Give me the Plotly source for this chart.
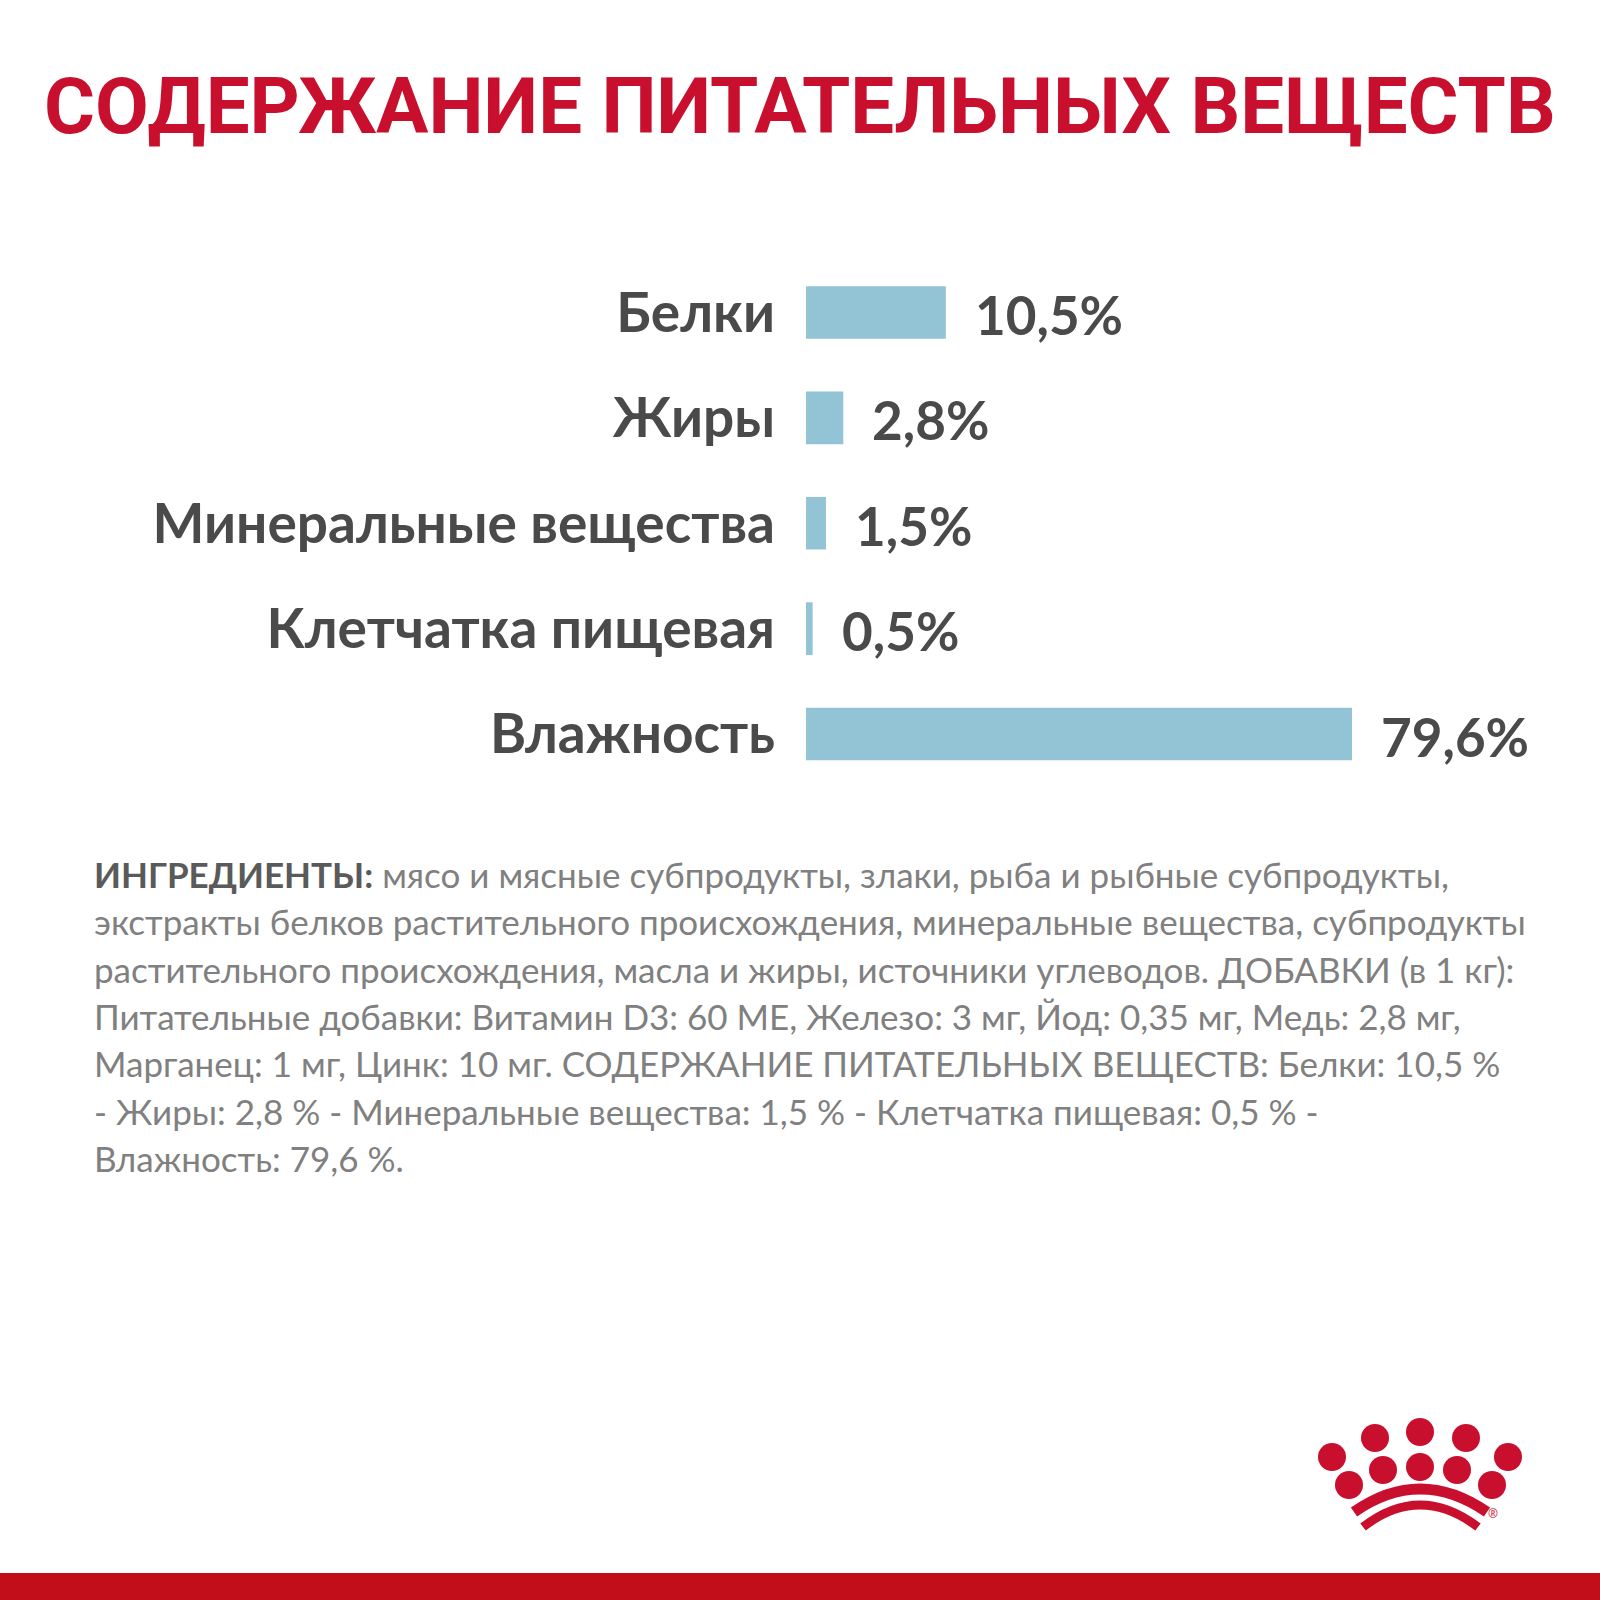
import plotly.graph_objects as go

# ---- data ----
categories = ["Белки", "Жиры", "Минеральные вещества", "Клетчатка пищевая", "Влажность"]
values = [10.5, 2.8, 1.5, 0.5, 79.6]
x_max = 41  # axis cap: the moisture bar is truncated at the axis end

title_text = "СОДЕРЖАНИЕ ПИТАТЕЛЬНЫХ ВЕЩЕСТВ"
ingredients_head = "ИНГРЕДИЕНТЫ:"
ingredients_lines = [
    " мясо и мясные субпродукты, злаки, рыба и рыбные субпродукты,",
    "экстракты белков растительного происхождения, минеральные вещества, субпродукты",
    "растительного происхождения, масла и жиры, источники углеводов. ДОБАВКИ (в 1 кг):",
    "Питательные добавки: Витамин D3: 60 МЕ, Железо: 3 мг, Йод: 0,35 мг, Медь: 2,8 мг,",
    "Марганец: 1 мг, Цинк: 10 мг. СОДЕРЖАНИЕ ПИТАТЕЛЬНЫХ ВЕЩЕСТВ: Белки: 10,5 %",
    "- Жиры: 2,8 % - Минеральные вещества: 1,5 % - Клетчатка пищевая: 0,5 % -",
    "Влажность: 79,6 %.",
]

FONT = "Lato, Roboto, sans-serif"
TITLE_FONT = "Roboto, Lato, sans-serif"
RED = "#C8102E"
BAR = "#92C4D6"
DARK = "#4A4A4A"
W = H = 1600

fig = go.Figure()
fig.add_trace(go.Bar(
    x=values, y=categories, orientation="h",
    marker=dict(color=BAR, line=dict(width=0)),
    hoverinfo="skip", cliponaxis=True,
))

# value labels
for c, v in zip(categories, values):
    fig.add_annotation(
        x=min(v, x_max), y=c, xref="x", yref="y",
        text=f"{v:.1f}".replace(".", ",") + "%",
        showarrow=False, xanchor="left", yanchor="middle", xshift=27, yshift=-2,
        font=dict(family=FONT, size=53, color=DARK, weight="bold"),
    )

# title
fig.add_annotation(
    x=0.5, y=1 - 106 / H, xref="paper", yref="paper",
    text=title_text, showarrow=False, xanchor="center", yanchor="middle",
    font=dict(family=TITLE_FONT, size=78, color=RED, weight="bold"),
)

# ingredients paragraph (one annotation per printed line)
line0 = f"<b><span style='color:#5A5A5A'>{ingredients_head}</span></b>" + ingredients_lines[0]
all_lines = [line0] + ingredients_lines[1:]
for i, ln in enumerate(all_lines):
    fig.add_annotation(
        x=92 / W, y=1 - (874 + i * 47.3) / H, xref="paper", yref="paper",
        text=ln, showarrow=False, xanchor="left", yanchor="middle", align="left",
        font=dict(family=FONT, size=35, color="#808080"),
    )

shapes = []
# bottom red band
shapes.append(dict(type="rect", xref="paper", yref="paper",
                   x0=0, x1=1, y0=0, y1=1 - 1573 / H,
                   fillcolor="#C20E1A", line=dict(width=0), layer="above"))

# crown logo (decorative)
dots = [(1420, 1432), (1375, 1438), (1466, 1438), (1332, 1457), (1508, 1457),
        (1383, 1470), (1420, 1467), (1457, 1470), (1349, 1485), (1492, 1485)]
r = 14
for cx, cy in dots:
    shapes.append(dict(type="circle", xref="paper", yref="paper",
                       x0=(cx - r) / W, x1=(cx + r) / W,
                       y0=1 - (cy + r) / H, y1=1 - (cy - r) / H,
                       fillcolor="#C8102E", line=dict(width=0)))

def arc_path(x0, y0, xp, yp, x1, y1):
    # quadratic curve in paper coords
    return (f"M {x0/W},{1-y0/H} Q {xp/W},{1-(2*yp-(y0+y1)/2)/H} {x1/W},{1-y1/H}")

shapes.append(dict(type="path", xref="paper", yref="paper",
                   path=arc_path(1354, 1512, 1420, 1489, 1487, 1512),
                   line=dict(color="#C8102E", width=11), fillcolor="rgba(0,0,0,0)"))
shapes.append(dict(type="path", xref="paper", yref="paper",
                   path=arc_path(1363, 1527, 1420, 1505, 1478, 1527),
                   line=dict(color="#C8102E", width=9), fillcolor="rgba(0,0,0,0)"))
fig.add_annotation(x=1500 / W, y=1 - 1524 / H, xref="paper", yref="paper",
                   text="®", showarrow=False, font=dict(size=12, color="#C8102E"))

fig.update_layout(
    width=W, height=H,
    margin=dict(l=0, r=0, t=0, b=0),
    paper_bgcolor="white", plot_bgcolor="white",
    showlegend=False, bargap=0.5,
    shapes=shapes,
    xaxis=dict(domain=[806 / W, 1352 / W], range=[0, x_max],
               visible=False, fixedrange=True),
    yaxis=dict(domain=[1 - 786.7 / H, 1 - 259.8 / H],
               categoryorder="array", categoryarray=categories,
               autorange="reversed", showgrid=False, zeroline=False,
               showline=False, ticks="", ticklabelstandoff=30,
               tickfont=dict(family=FONT, size=55, color=DARK, weight="bold")),
)

fig.write_html("out.html")
